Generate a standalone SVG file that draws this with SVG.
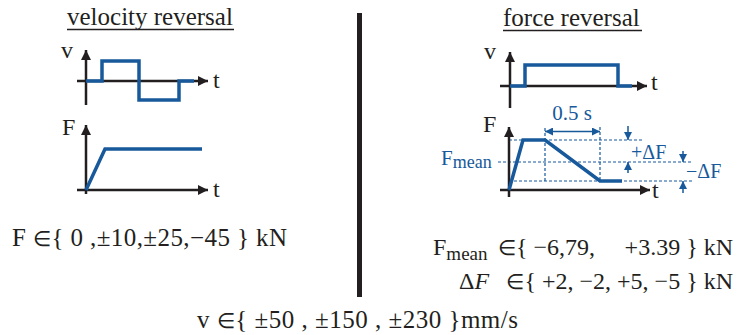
<svg xmlns="http://www.w3.org/2000/svg" width="738" height="335" viewBox="0 0 738 335">
<style>
text{font-family:"Liberation Serif","Times New Roman",serif;fill:#231f20}
.t25{font-size:25px}
.t24{font-size:24px}
.el{font-size:21px}
.blue{fill:#17599b}
.axis{stroke:#231f20;stroke-width:2.5;fill:none}
.sig{stroke:#17599b;stroke-width:3.5;fill:none;stroke-linejoin:miter}
.dash{stroke:#17599b;stroke-width:1.2;stroke-dasharray:3 2;fill:none}
.dim{stroke:#17599b;stroke-width:1.5;fill:none}
.ul{stroke:#231f20;stroke-width:1.5}
</style>
<defs>
<marker id="ah" viewBox="0 0 10 10" refX="10" refY="5" markerWidth="12" markerHeight="10" markerUnits="userSpaceOnUse" orient="auto"><path d="M0,0 L10,5 L0,10 Z" fill="#231f20"/></marker>
<marker id="bh" viewBox="0 0 10 10" refX="10" refY="5" markerWidth="9" markerHeight="8" markerUnits="userSpaceOnUse" orient="auto-start-reverse"><path d="M0,0 L10,5 L0,10 Z" fill="#17599b"/></marker>
</defs>

<g id="title-left">
<text class="t25" x="67" y="25">velocity reversal</text>
<line class="ul" x1="67" y1="29.5" x2="234" y2="29.5"/>
</g>
<g id="title-right">
<text class="t25" x="503" y="26">force reversal</text>
<line class="ul" x1="503" y1="30.5" x2="642" y2="30.5"/>
</g>

<rect id="divider" x="357" y="13" width="5" height="284" fill="#231f20"/>

<g id="left-v-chart">
<line class="axis" x1="86" y1="105" x2="86" y2="50" marker-end="url(#ah)"/>
<line class="axis" x1="77" y1="81" x2="208" y2="81" marker-end="url(#ah)"/>
<polyline class="sig" points="86,81 102,81 102,61 139,61 139,100 179,100 179,81 194,81"/>
<text class="t24" x="61" y="58">v</text>
<text class="t24" x="213" y="88">t</text>
</g>

<g id="left-f-chart">
<line class="axis" x1="86" y1="194" x2="86" y2="125" marker-end="url(#ah)"/>
<line class="axis" x1="77" y1="190" x2="208" y2="190" marker-end="url(#ah)"/>
<polyline class="sig" points="86,190 105,149 202,149"/>
<text class="t24" x="62" y="135">F</text>
<text class="t24" x="213" y="197">t</text>
</g>

<g id="right-v-chart">
<line class="axis" x1="510" y1="108" x2="510" y2="52" marker-end="url(#ah)"/>
<line class="axis" x1="500" y1="86" x2="647" y2="86" marker-end="url(#ah)"/>
<polyline class="sig" points="510,86 525,86 525,65 618,65 618,86 632,86"/>
<text class="t24" x="484" y="59">v</text>
<text class="t24" x="651" y="90">t</text>
</g>

<g id="right-f-chart">
<line class="dash" x1="509" y1="140" x2="642" y2="140"/>
<line class="dash" x1="498" y1="162" x2="692" y2="162"/>
<line class="dash" x1="509" y1="181" x2="692" y2="181"/>
<line class="dash" x1="545" y1="128" x2="545" y2="181"/>
<line class="dash" x1="600" y1="127" x2="600" y2="181"/>
<line class="axis" x1="509" y1="197" x2="509" y2="127" marker-end="url(#ah)"/>
<line class="axis" x1="500" y1="190" x2="650" y2="190" marker-end="url(#ah)"/>
<polyline class="sig" points="509,190 523,140 545,140 600,181 622,181"/>
<text class="t24" x="483" y="132">F</text>
<text class="t24" x="652" y="198">t</text>
<text class="blue" x="441" y="165" style="font-size:21px">F<tspan style="font-size:18px" dy="3">mean</tspan></text>
</g>

<g id="connectors">
<line class="dim" x1="545" y1="131.5" x2="600" y2="131.5" marker-start="url(#bh)" marker-end="url(#bh)"/>
<line class="dim" x1="628" y1="126" x2="628" y2="140" marker-end="url(#bh)"/>
<line class="dim" x1="628" y1="173" x2="628" y2="162" marker-end="url(#bh)"/>
<line class="dim" x1="683" y1="151" x2="683" y2="162" marker-end="url(#bh)"/>
<line class="dim" x1="683" y1="193" x2="683" y2="181" marker-end="url(#bh)"/>
</g>

<g id="dim-labels">
<text class="blue" x="572" y="120" text-anchor="middle" style="font-size:21px">0.5 s</text>
<text class="blue" x="631" y="159" style="font-size:20px">+ΔF</text>
<text class="blue" x="686" y="178" style="font-size:20px">−ΔF</text>
</g>

<g id="formulas">
<text class="t25" x="12" y="246" textLength="275" lengthAdjust="spacing">F <tspan class="el">∈</tspan>{ 0 ,±10,±25,−45 } kN</text>
<text class="t24" x="433" y="255">F<tspan style="font-size:19px" dy="5">mean</tspan></text>
<text class="t24" x="498" y="255"><tspan class="el">∈</tspan>{ −6,79,</text>
<text class="t24" x="733" y="255" text-anchor="end">+3.39 } kN</text>
<text class="t24" x="459" y="289">Δ<tspan font-style="italic">F</tspan></text>
<text class="t24" x="733" y="289" text-anchor="end"><tspan class="el">∈</tspan>{ +2, −2, +5, −5 } kN</text>
<text class="t25" x="197" y="328" textLength="321" lengthAdjust="spacing">v <tspan class="el">∈</tspan>{ ±50 , ±150 , ±230 }mm/s</text>
</g>
</svg>
